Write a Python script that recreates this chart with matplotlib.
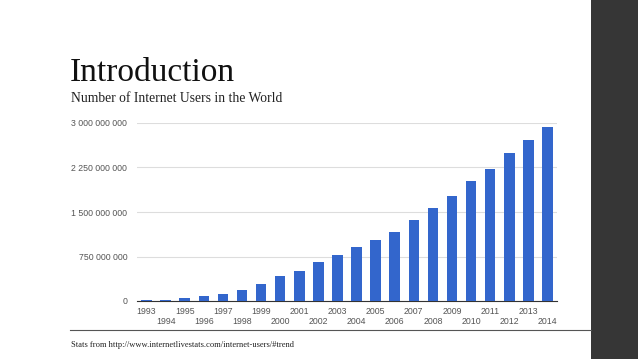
import matplotlib

matplotlib.use("Agg")

import matplotlib.pyplot as plt
from matplotlib.patches import Rectangle
from matplotlib.lines import Line2D

years = list(range(1993, 2015))
users = [14e6, 25e6, 45e6, 77e6, 121e6, 188e6, 281e6, 414e6, 502e6, 665e6, 781e6,
         910e6, 1030e6, 1162e6, 1373e6, 1575e6, 1766e6, 2023e6, 2231e6, 2494e6,
         2712e6, 2925e6]
y_ticks = [0, 750e6, 1500e6, 2250e6, 3000e6]
y_tick_labels = ["0", "750 000 000", "1 500 000 000", "2 250 000 000", "3 000 000 000"]

W, H = 638, 359
fig = plt.figure(figsize=(W / 100, H / 100), dpi=100)
fig.patch.set_facecolor("white")

# dark side panel
fig.patches.append(Rectangle((591 / W, 0), 1 - 591 / W, 1, transform=fig.transFigure,
                             facecolor="#363636", edgecolor="none", zorder=0))

serif = ["Liberation Serif", "DejaVu Serif"]
fig.text(70 / W, 1 - 73 / H, "Introduction", family=serif, fontsize=24, color="#111111",
         ha="left", va="center")
fig.text(71 / W, 1 - 99 / H, "Number of Internet Users in the World", family=serif,
         fontsize=9.8, color="#222222", ha="left", va="center")

ax = fig.add_axes([137 / W, 1 - 301 / H, (557 - 137) / W, (301 - 123) / H])
x = list(range(len(years)))
ax.bar(x, users, width=0.55, color="#3366cc", zorder=3)
ax.set_xlim(-0.5, len(years) - 0.5)
ax.set_ylim(0, 3e9)
ax.set_yticks(y_ticks)
ax.set_yticklabels(y_tick_labels, family="Liberation Sans", fontsize=6.3, color="#555555")
ax.tick_params(axis="y", length=0, pad=7)
ax.grid(axis="y", color="#dddddd", lw=0.8, zorder=0)
for s in ["top", "right", "left"]:
    ax.spines[s].set_visible(False)
ax.spines["bottom"].set_color("#333333")
ax.spines["bottom"].set_linewidth(0.8)
ax.set_xticks([])
for i, yr in enumerate(years):
    dy = 11 if i % 2 == 0 else 21
    ax.annotate(str(yr), (i, 0), xytext=(0, -dy), textcoords="offset pixels",
                ha="center", va="center", family="Liberation Sans", fontsize=6.3,
                color="#555555", annotation_clip=False)

fig.lines.append(Line2D([70 / W, 591 / W], [1 - 330 / H, 1 - 330 / H], transform=fig.transFigure,
                        color="#555555", lw=0.8))
fig.text(71 / W, 1 - 345 / H, "Stats from http://www.internetlivestats.com/internet-users/#trend",
         family=serif, fontsize=6.1, color="#222222", ha="left", va="center")

fig.savefig("out.png", dpi=100)
